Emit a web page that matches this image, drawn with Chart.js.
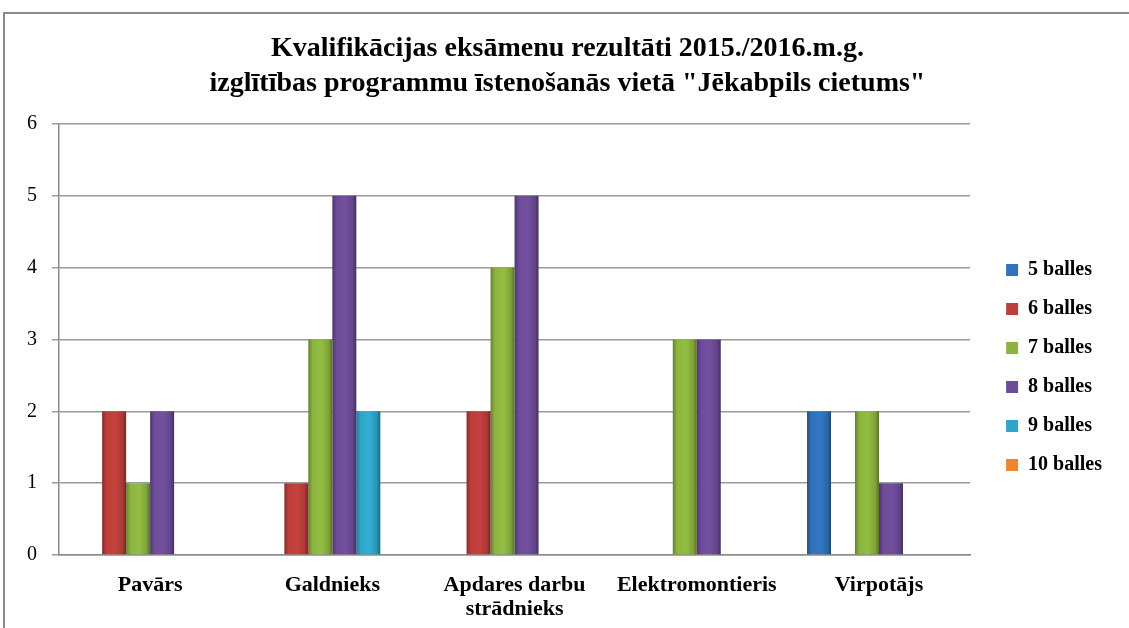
<!DOCTYPE html>
<html>
<head>
<meta charset="utf-8">
<script src="https://cdn.jsdelivr.net/npm/chart.js@4/dist/chart.umd.min.js"></script>
<style>
  html, body { margin: 0; padding: 0; background: #fff; }
  #wrap { position: relative; width: 1129px; height: 628px; overflow: hidden; }
  #frame { position: absolute; left: 3px; top: 12px; width: 1200px; height: 700px;
           border-left: 2px solid #8a8a8a; border-top: 2px solid #8a8a8a; }
  canvas { position: absolute; left: 0; top: 0; }
</style>
</head>
<body>
<div id="wrap">
  <div id="frame"></div>
  <canvas id="myChart" width="1129" height="628"></canvas>
</div>
<script>
// Profesijas
let categories = ['Pavārs', 'Galdnieks', ['Apdares darbu', 'strādnieks'], 'Elektromontieris', 'Virpotājs'];

// Vērtējumi (cik audzēkņu saņēma attiecīgo balli)
let balles5  = [0, 0, 0, 0, 2];
let balles6  = [2, 1, 2, 0, 0];
let balles7  = [1, 3, 4, 3, 2];
let balles8  = [2, 5, 5, 3, 1];
let balles9  = [0, 2, 0, 0, 0];
let balles10 = [0, 0, 0, 0, 0];

let seriesNames = ['5 balles', '6 balles', '7 balles', '8 balles', '9 balles', '10 balles'];
let yTicks = [0, 1, 2, 3, 4, 5, 6];

let colors = ['#3072bb', '#bd3e3a', '#8cb43f', '#6d4c97', '#2ea6c8', '#ec8632'];
let allSeries = [balles5, balles6, balles7, balles8, balles9, balles10];

function shade(hex, f) {
    var n = parseInt(hex.slice(1), 16);
    var r = Math.min(255, Math.round(((n >> 16) & 255) * f));
    var g = Math.min(255, Math.round(((n >> 8) & 255) * f));
    var b = Math.min(255, Math.round((n & 255) * f));
    return 'rgb(' + r + ',' + g + ',' + b + ')';
}

let datasets = allSeries.map(function (vals, i) {
    return {
        label: seriesNames[i],
        data: vals,
        // function so every bar gets its own options object (gradient is set later)
        backgroundColor: function (c) { return colors[c.datasetIndex]; },
        borderWidth: 0,
        barPercentage: 1,
        categoryPercentage: 0.79
    };
});

var serif = "'Liberation Serif', 'Times New Roman', serif";

// legend and title sit a bit off from where Chart.js puts them
var nudge = {
    id: 'nudge',
    afterLayout: function (chart) {
        var lg = chart.legend;
        lg.left += 17; lg.right += 17;
        lg.top += 46; lg.bottom += 46;
        chart.titleBlock.left += 14; chart.titleBlock.right += 14;
    }
};

// soft bevel: darker edges on each bar
var barShade = {
    id: 'barShade',
    beforeDatasetsDraw: function (chart) {
        var c = chart.ctx;
        chart.data.datasets.forEach(function (ds, i) {
            var base = colors[i];
            chart.getDatasetMeta(i).data.forEach(function (bar) {
                var x0 = bar.x - bar.width / 2, x1 = bar.x + bar.width / 2;
                var g = c.createLinearGradient(x0, 0, x1, 0);
                g.addColorStop(0, shade(base, 0.72));
                g.addColorStop(0.18, shade(base, 1.0));
                g.addColorStop(0.55, shade(base, 1.05));
                g.addColorStop(0.85, shade(base, 0.9));
                g.addColorStop(1, shade(base, 0.62));
                bar.options.backgroundColor = g;
            });
        });
    }
};

var ctx = document.getElementById('myChart').getContext('2d');
var myChart = new Chart(ctx, {
    type: 'bar',
    data: {
        labels: categories,
        datasets: datasets
    },
    options: {
        responsive: false,
        animation: false,
        layout: {
            padding: { left: 12, right: 34, top: 20, bottom: 5 }
        },
        scales: {
            x: {
                grid: { display: false, drawTicks: false },
                border: { display: true, color: '#8c8c8c', width: 1.5 },
                afterFit: function (axis) { axis.height = 68; },
                ticks: {
                    color: '#000',
                    padding: 18,
                    maxRotation: 0,
                    autoSkip: false,
                    font: { family: serif, size: 22, weight: 'bold', lineHeight: 1.1 }
                }
            },
            y: {
                min: 0,
                max: 6,
                afterBuildTicks: function (axis) {
                    axis.ticks = yTicks.map(function (v) { return { value: v }; });
                },
                grid: { color: '#9a9a9a', lineWidth: 1.5, tickLength: 7 },
                border: { display: true, color: '#8c8c8c', width: 1.5 },
                ticks: {
                    color: '#000',
                    padding: 15,
                    font: { family: serif, size: 20 }
                }
            }
        },
        plugins: {
            title: {
                display: true,
                text: ['Kvalifikācijas eksāmenu rezultāti 2015./2016.m.g.',
                       'izglītības programmu īstenošanās vietā "Jēkabpils cietums"'],
                color: '#000',
                font: { family: serif, size: 28, weight: 'bold', lineHeight: 1.25 },
                padding: { top: 11, bottom: 23 }
            },
            legend: {
                position: 'right',
                labels: {
                    color: '#000',
                    boxWidth: 12,
                    boxHeight: 12,
                    padding: 19,
                    font: { family: serif, size: 20, weight: 'bold' }
                }
            },
            tooltip: { enabled: false }
        }
    },
    plugins: [nudge, barShade]
});
</script>
</body>
</html>
